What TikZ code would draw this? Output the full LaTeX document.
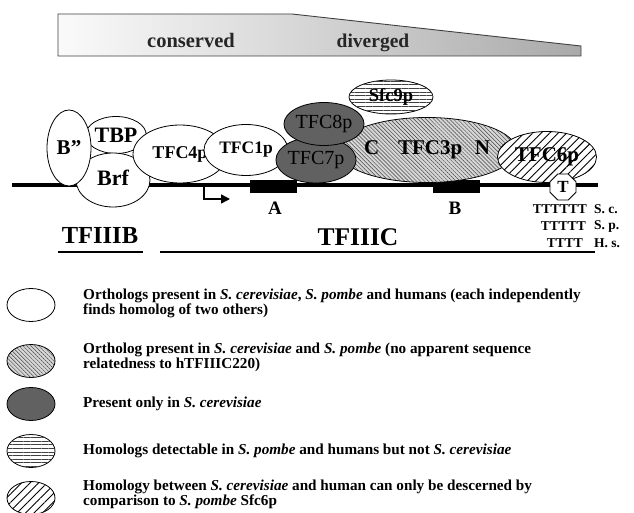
\documentclass[tikz,border=0pt]{standalone}
\usepackage{fontspec}
\setmainfont{Liberation Serif}
\usetikzlibrary{shapes.geometric,patterns.meta,arrows.meta}
\pgfdeclarehorizontalshading{barshade}{100bp}{color(0bp)=(white); color(22bp)=(white); color(45bp)=(black!14); color(100bp)=(black!50)}
\newcommand{\fs}[1]{\fontsize{#1}{#1}\selectfont\bfseries}
\begin{document}
\begin{tikzpicture}[x=1pt,y=-1pt,
  prot/.style={ellipse, draw=black, line width=0.8pt, fill=white, text=black, inner sep=0pt, font=\fs{18}},
  darkprot/.style={prot, fill=black!62, text=black, font=\fontsize{20}{20}\selectfont},
  fineprot/.style={prot, fill=black!16, postaction={pattern={Lines[angle=-45,distance=2.8pt,line width=0.45pt]}, pattern color=black!75}},
  coarseprot/.style={prot, postaction={pattern={Lines[angle=45,distance=6pt,line width=0.9pt]}, pattern color=black}},
  hlineprot/.style={prot, postaction={pattern={Lines[angle=0,distance=3.6pt,line width=0.5pt]}, pattern color=black!75}},
  elembox/.style={fill=black, inner sep=0pt, minimum width=47pt, minimum height=13pt},
  lbl/.style={inner sep=0pt, font=\fs{19}},
  legell/.style={minimum width=48pt, minimum height=33pt},
  legtxt/.style={anchor=west, inner sep=0pt, align=left, font=\fontsize{15.2}{15}\selectfont\bfseries},
  ttxt/.style={inner sep=0pt, font=\fs{13.5}}
]
\useasboundingbox (0,0) rectangle (634,513);

% conservation bar
\shade[shading=barshade, draw=black!75, line width=0.9pt] (58,14) -- (292,14) -- (581,46) -- (581,56) -- (58,56) -- cycle;
\node[lbl, font=\fs{20.5}, text=black!85, anchor=base] (cons) at (191,48) {conserved};
\node[lbl, font=\fs{19.5}, text=black!85, anchor=base] (div) at (373,48) {diverged};

% DNA
\coordinate (dnaL) at (12,185);
\coordinate (dnaR) at (598,185);
\draw[line width=4.5pt] (dnaL) -- (dnaR);
\node[elembox] (boxA) at (273.5,186.5) {};
\node[elembox] (boxB) at (456.5,187) {};
\node[lbl] (labA) at (275,208) {A};
\node[lbl] (labB) at (455,208) {B};

% start site arrow
\coordinate (tss) at (204,186);
\coordinate (tssEnd) at (230,199);
\draw[line width=1.6pt, -{Triangle[length=9pt,width=9pt]}] (tss) |- (tssEnd);

% proteins
\node[prot, minimum width=52pt, minimum height=37pt, font=\fs{22}] (TBP) at (116,135) {TBP};
\node[prot, minimum width=74pt, minimum height=54pt, font=\fs{22}] (Brf) at (113,180) {\raisebox{4pt}{Brf}};
\node[prot, minimum width=44pt, minimum height=76pt, font=\fs{21}] (Bpp) at (69,148) {B”};
\node[prot, minimum width=94pt, minimum height=58pt] (TFC4) at (180,154) {TFC4p};
\node[prot, minimum width=84pt, minimum height=51pt, font=\fs{17.5}] (TFC1) at (246,150) {TFC1p};
\node[fineprot, minimum width=156pt, minimum height=65pt, font=\fs{21}] (TFC3) at (427,150) {C\hspace{0.9em}TFC3p\hspace{0.6em}N};
\node[coarseprot, minimum width=99pt, minimum height=51pt, font=\fs{21}] (TFC6) at (547,157) {TFC6p};
\node[darkprot, minimum width=69pt, minimum height=46pt] (TFC7) at (316,160) {TFC7p};
\node[darkprot, minimum width=78pt, minimum height=43pt] (TFC8) at (324,124) {TFC8p};
\node[hlineprot, minimum width=84pt, minimum height=34pt, font=\fs{18.5}] (Sfc9) at (391,97) {Sfc9p};
\node[regular polygon, regular polygon sides=8, draw, line width=0.8pt, fill=white, inner sep=0pt, minimum size=28pt, font=\fs{17}] (Tterm) at (563,187) {T};

% terminator sequences
\node[ttxt, anchor=east] (sc) at (587,209) {TTTTTT};
\node[ttxt, anchor=east] (sp) at (586,226) {TTTTT};
\node[ttxt, anchor=east] (hs) at (583,243) {TTTT};
\node[ttxt, anchor=west] (scl) at (594,209) {S. c.};
\node[ttxt, anchor=west] (spl) at (594,226) {S. p.};
\node[ttxt, anchor=west] (hsl) at (594,243) {H. s.};

% factor labels
\node[lbl, font=\fs{24.5}] (TFIIIB) at (100,236) {TFIIIB};
\node[lbl, font=\fs{25.5}] (TFIIIC) at (358,237) {TFIIIC};
\coordinate (ubL) at (58,252);
\coordinate (ubR) at (143,252);
\coordinate (ucL) at (160,252);
\coordinate (ucR) at (595,252);
\draw[line width=1.3pt] (ubL) -- (ubR);
\draw[line width=1.3pt] (ucL) -- (ucR);

% legend
\node[prot, legell] (L1) at (31,305) {};
\node[fineprot, legell] (L2) at (31,361) {};
\node[darkprot, legell] (L3) at (31,404) {};
\node[hlineprot, legell] (L4) at (31,451) {};
\node[coarseprot, legell] (L5) at (31,498) {};
\node[legtxt] (D1) at (83,303.5) {Orthologs present in \textit{S. cerevisiae}, \textit{S. pombe} and humans (each independently\\finds homolog of two others)};
\node[legtxt] (D2) at (83,357) {Ortholog present in \textit{S. cerevisiae} and \textit{S. pombe} (no apparent sequence\\relatedness to hTFIIIC220)};
\node[legtxt] (D3) at (83,404) {Present only in \textit{S. cerevisiae}};
\node[legtxt] (D4) at (83,451) {Homologs detectable in \textit{S. pombe} and humans but not \textit{S. cerevisiae}};
\node[legtxt] (D5) at (83,494) {Homology between \textit{S. cerevisiae} and human can only be descerned by\\comparison to \textit{S. pombe} Sfc6p};
\end{tikzpicture}
\end{document}
